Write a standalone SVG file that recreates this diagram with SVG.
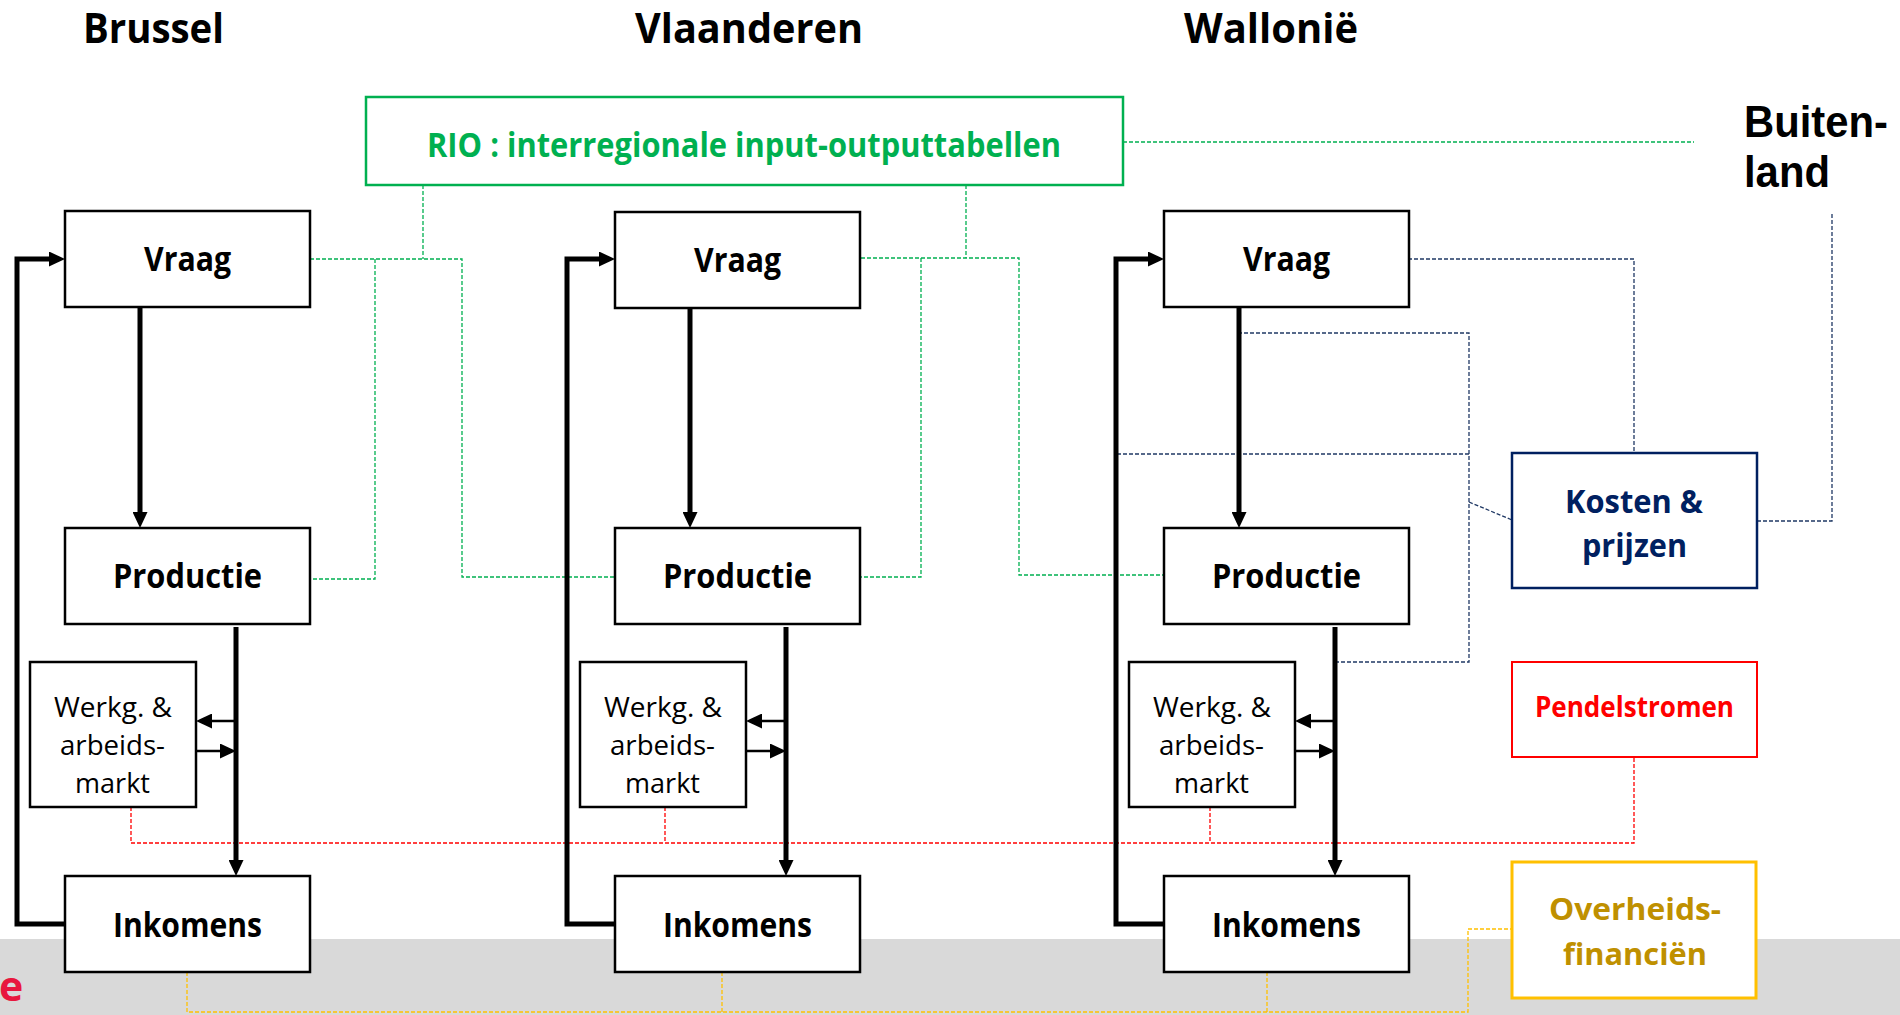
<svg xmlns="http://www.w3.org/2000/svg" width="1900" height="1015" viewBox="0 0 1900 1015">
<defs>
<style>
.box{fill:#fff;stroke:#000;stroke-width:2.5}
.lbl{font-family:"Open Sans","Liberation Sans",sans-serif;font-weight:700;font-size:34px;fill:#000}
.ttl{font-family:"Open Sans","Liberation Sans",sans-serif;font-weight:700;font-size:42px;fill:#000}
.small{font-family:"Open Sans","Liberation Sans",sans-serif;font-weight:400;font-size:28px;fill:#000}
.thick{fill:none;stroke:#000;stroke-width:5;stroke-linejoin:miter}
.thin{fill:none;stroke:#000;stroke-width:2.5}
.dash{fill:none;stroke-width:1.3;stroke-dasharray:4 2}
.g{stroke:#00B050}.b{stroke:#1F3864}.r{stroke:#FF0000}.y{stroke:#FFC000}
</style>
<marker id="ah" viewBox="0 0 16 15" markerWidth="16" markerHeight="15" refX="2" refY="7.5" orient="auto" markerUnits="userSpaceOnUse">
<path d="M0,0 L16,7.5 L0,15 z" fill="#000"/>
</marker>
</defs>
<rect x="0" y="0" width="1900" height="1015" fill="#fff"/>
<rect x="0" y="939" width="1900" height="76" fill="#D9D9D9"/>
<text x="-1" y="1001" style="font-family:'Open Sans','Liberation Sans',sans-serif;font-weight:700;font-size:41px;fill:#E8173E">e</text>

<g id="titles">
<text class="ttl" x="83" y="43" textLength="141" lengthAdjust="spacingAndGlyphs">Brussel</text>
<text class="ttl" x="635" y="43" textLength="228" lengthAdjust="spacingAndGlyphs">Vlaanderen</text>
<text class="ttl" x="1184" y="43" textLength="174" lengthAdjust="spacingAndGlyphs">Wallonië</text>
</g>

<g id="connectors">
<!-- green RIO -->
<path class="dash g" d="M423,185 V259"/>
<path class="dash g" d="M310,259 H462 V577 H614"/>
<path class="dash g" d="M375,259 V579 H310"/>
<path class="dash g" d="M966,185 V258"/>
<path class="dash g" d="M861,258 H1019 V575 H1172"/>
<path class="dash g" d="M921,258 V577 H861"/>
<path class="dash g" d="M1123,142 H1694"/>
<!-- blue kosten -->
<path class="dash b" d="M1408,259 H1634 V453"/>
<path class="dash b" d="M1238,333 H1469 V662 H1335"/>
<path class="dash b" d="M1117,454 H1469"/>
<path class="dash b" d="M1469,502 L1512,520"/>
<path class="dash b" d="M1757,521 H1832 V212"/>
<!-- red pendel -->
<path class="dash r" d="M131,807 V843 H1634 V757"/>
<path class="dash r" d="M665,807 V843"/>
<path class="dash r" d="M1210,807 V843"/>
<!-- yellow overheid -->
<path class="dash y" d="M187,972 V1012 H1468 V929 H1512"/>
<path class="dash y" d="M722,972 V1012"/>
<path class="dash y" d="M1267,972 V1012"/>
<!-- black flows Brussel -->
<path class="thick" d="M65,924 H17 V259 H51" marker-end="url(#ah)"/>
<path class="thick" d="M140,307 V514" marker-end="url(#ah)"/>
<path class="thick" d="M236,627 V862" marker-end="url(#ah)"/>
<path class="thin" d="M236,721 H210" marker-end="url(#ah)"/>
<path class="thin" d="M196,751 H222" marker-end="url(#ah)"/>
<!-- Vlaanderen -->
<path class="thick" d="M615,924 H567 V259 H601" marker-end="url(#ah)"/>
<path class="thick" d="M690,308 V514" marker-end="url(#ah)"/>
<path class="thick" d="M786,627 V862" marker-end="url(#ah)"/>
<path class="thin" d="M786,721 H760" marker-end="url(#ah)"/>
<path class="thin" d="M746,751 H772" marker-end="url(#ah)"/>
<!-- Wallonie -->
<path class="thick" d="M1164,924 H1116 V259 H1150" marker-end="url(#ah)"/>
<path class="thick" d="M1239,307 V514" marker-end="url(#ah)"/>
<path class="thick" d="M1335,627 V862" marker-end="url(#ah)"/>
<path class="thin" d="M1335,721 H1309" marker-end="url(#ah)"/>
<path class="thin" d="M1295,751 H1321" marker-end="url(#ah)"/>
</g>

<g id="rio">
<rect x="366" y="97" width="757" height="88" fill="#fff" stroke="#00B050" stroke-width="2.5"/>
<text x="427" y="157" textLength="634" lengthAdjust="spacingAndGlyphs" style="font-family:'Open Sans','Liberation Sans',sans-serif;font-weight:700;font-size:34px;fill:#00B050">RIO : interregionale input-outputtabellen</text>
</g>

<g id="buitenland">
<text style="font-family:'Liberation Sans','Open Sans',sans-serif;font-weight:700;font-size:44px;fill:#000"><tspan x="1744" y="137" textLength="144" lengthAdjust="spacingAndGlyphs">Buiten-</tspan><tspan x="1744" y="187" textLength="86" lengthAdjust="spacingAndGlyphs">land</tspan></text>
</g>

<g id="brussel-vraag"><rect class="box" x="65" y="211" width="245" height="96"/><text class="lbl" x="144" y="271" textLength="87" lengthAdjust="spacingAndGlyphs">Vraag</text></g>
<g id="brussel-productie"><rect class="box" x="65" y="528" width="245" height="96"/><text class="lbl" x="113" y="588" textLength="149" lengthAdjust="spacingAndGlyphs">Productie</text></g>
<g id="brussel-werkg"><rect class="box" x="30" y="662" width="166" height="145"/>
<text class="small" x="54" y="717" textLength="118" lengthAdjust="spacingAndGlyphs">Werkg. &amp;</text>
<text class="small" x="60" y="755" textLength="105" lengthAdjust="spacingAndGlyphs">arbeids-</text>
<text class="small" x="75" y="793" textLength="75" lengthAdjust="spacingAndGlyphs">markt</text></g>
<g id="brussel-inkomens"><rect class="box" x="65" y="876" width="245" height="96"/><text class="lbl" x="113" y="937" textLength="149" lengthAdjust="spacingAndGlyphs">Inkomens</text></g>

<g id="vlaanderen-vraag"><rect class="box" x="615" y="212" width="245" height="96"/><text class="lbl" x="694" y="272" textLength="87" lengthAdjust="spacingAndGlyphs">Vraag</text></g>
<g id="vlaanderen-productie"><rect class="box" x="615" y="528" width="245" height="96"/><text class="lbl" x="663" y="588" textLength="149" lengthAdjust="spacingAndGlyphs">Productie</text></g>
<g id="vlaanderen-werkg"><rect class="box" x="580" y="662" width="166" height="145"/>
<text class="small" x="604" y="717" textLength="118" lengthAdjust="spacingAndGlyphs">Werkg. &amp;</text>
<text class="small" x="610" y="755" textLength="105" lengthAdjust="spacingAndGlyphs">arbeids-</text>
<text class="small" x="625" y="793" textLength="75" lengthAdjust="spacingAndGlyphs">markt</text></g>
<g id="vlaanderen-inkomens"><rect class="box" x="615" y="876" width="245" height="96"/><text class="lbl" x="663" y="937" textLength="149" lengthAdjust="spacingAndGlyphs">Inkomens</text></g>

<g id="wallonie-vraag"><rect class="box" x="1164" y="211" width="245" height="96"/><text class="lbl" x="1243" y="271" textLength="87" lengthAdjust="spacingAndGlyphs">Vraag</text></g>
<g id="wallonie-productie"><rect class="box" x="1164" y="528" width="245" height="96"/><text class="lbl" x="1212" y="588" textLength="149" lengthAdjust="spacingAndGlyphs">Productie</text></g>
<g id="wallonie-werkg"><rect class="box" x="1129" y="662" width="166" height="145"/>
<text class="small" x="1153" y="717" textLength="118" lengthAdjust="spacingAndGlyphs">Werkg. &amp;</text>
<text class="small" x="1159" y="755" textLength="105" lengthAdjust="spacingAndGlyphs">arbeids-</text>
<text class="small" x="1174" y="793" textLength="75" lengthAdjust="spacingAndGlyphs">markt</text></g>
<g id="wallonie-inkomens"><rect class="box" x="1164" y="876" width="245" height="96"/><text class="lbl" x="1212" y="937" textLength="149" lengthAdjust="spacingAndGlyphs">Inkomens</text></g>

<g id="kosten"><rect x="1512" y="453" width="245" height="135" fill="#fff" stroke="#002060" stroke-width="2.5"/>
<text x="1565" y="513" textLength="138" lengthAdjust="spacingAndGlyphs" style="font-family:'Open Sans','Liberation Sans',sans-serif;font-weight:700;font-size:32px;fill:#002060">Kosten &amp;</text>
<text x="1582" y="557" textLength="105" lengthAdjust="spacingAndGlyphs" style="font-family:'Open Sans','Liberation Sans',sans-serif;font-weight:700;font-size:32px;fill:#002060">prijzen</text></g>
<g id="pendelstromen"><rect x="1512" y="662" width="245" height="95" fill="#fff" stroke="#FF0000" stroke-width="2"/>
<text x="1535" y="717" textLength="199" lengthAdjust="spacingAndGlyphs" style="font-family:'Open Sans','Liberation Sans',sans-serif;font-weight:700;font-size:28px;fill:#FF0000">Pendelstromen</text></g>
<g id="overheidsfinancien"><rect x="1512" y="862" width="244" height="136" fill="#fff" stroke="#FFC000" stroke-width="3"/>
<text x="1549" y="920" textLength="172" lengthAdjust="spacingAndGlyphs" style="font-family:'Open Sans','Liberation Sans',sans-serif;font-weight:700;font-size:31px;fill:#BF9000">Overheids-</text>
<text x="1563" y="965" textLength="144" lengthAdjust="spacingAndGlyphs" style="font-family:'Open Sans','Liberation Sans',sans-serif;font-weight:700;font-size:31px;fill:#BF9000">financiën</text></g>
</svg>
